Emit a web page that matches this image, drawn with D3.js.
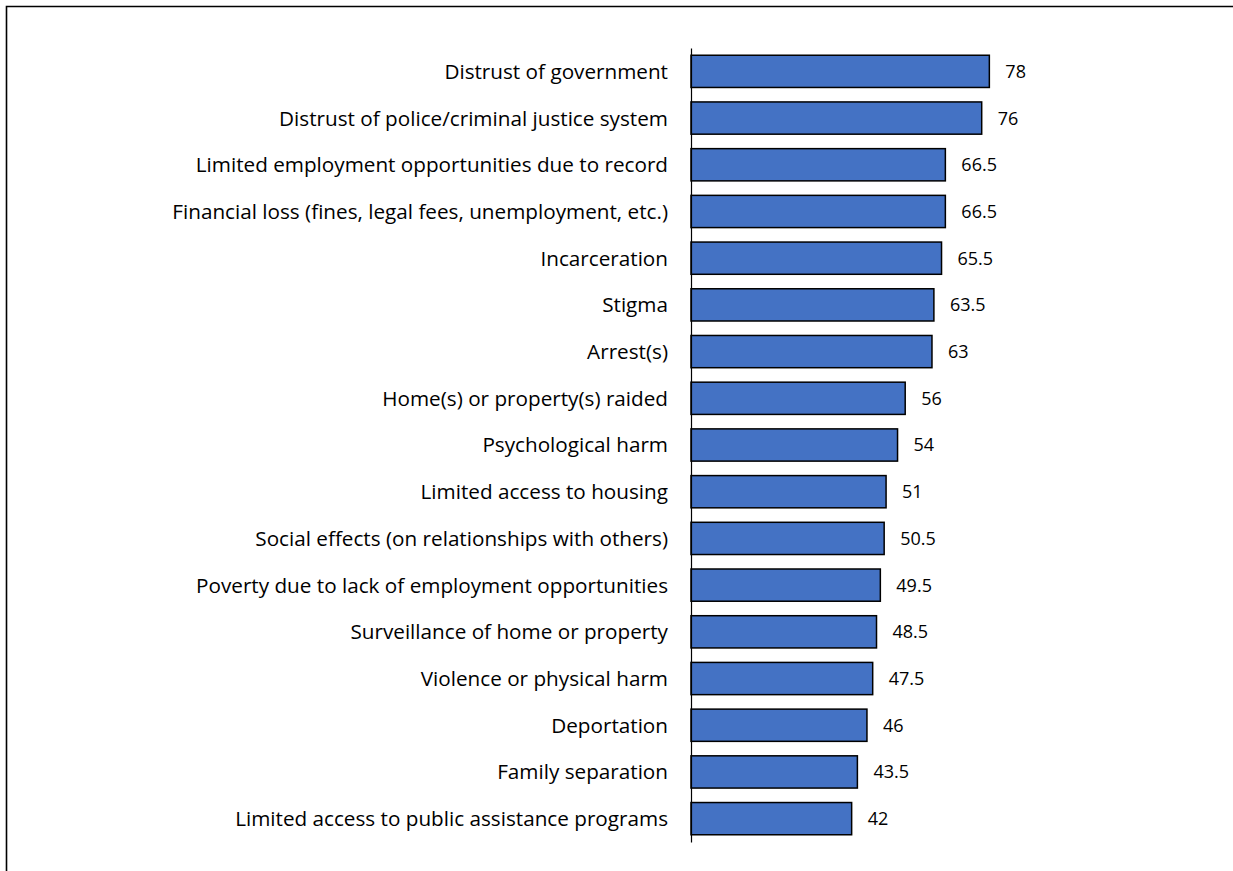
<!DOCTYPE html>
<html>
<head>
<meta charset="utf-8">
<script src="https://cdn.jsdelivr.net/npm/d3@7"></script>
<style>
  html, body { margin: 0; background: #fff; overflow: hidden; }
  svg { display: block; }
  svg text { font-family: "Open Sans", sans-serif; fill: #000; }
</style>
</head>
<body>
<div id="chart"></div>
<script>
// categories, top to bottom
var categories = [
  "Distrust of government",
  "Distrust of police/criminal justice system",
  "Limited employment opportunities due to record",
  "Financial loss (fines, legal fees, unemployment, etc.)",
  "Incarceration",
  "Stigma",
  "Arrest(s)",
  "Home(s) or property(s) raided",
  "Psychological harm",
  "Limited access to housing",
  "Social effects (on relationships with others)",
  "Poverty due to lack of employment opportunities",
  "Surveillance of home or property",
  "Violence or physical harm",
  "Deportation",
  "Family separation",
  "Limited access to public assistance programs"
];
var values = [78, 76, 66.5, 66.5, 65.5, 63.5, 63, 56, 54, 51, 50.5, 49.5, 48.5, 47.5, 46, 43.5, 42];

var width = 1233,
    height = 871;

var svg = d3.select("#chart")
  .append("svg")
  .attr("width", width)
  .attr("height", height);

// outer frame (only top and left edges are inside the picture)
svg.append("path")
  .attr("d", "M6.5,880 L6.5,6.5 L1240,6.5")
  .attr("fill", "none")
  .attr("stroke", "#000")
  .attr("stroke-width", 1.6);

var x = d3.scaleLinear()
  .domain([0, 90])
  .range([691, 691 + 90 * 3.825]);

var y = d3.scaleBand()
  .domain(categories)
  .range([48, 842])
  .paddingInner(0.31)
  .paddingOuter(0.155);

var data = categories.map(function (c, i) { return { name: c, value: values[i] }; });

// bars
svg.append("g").selectAll("rect")
  .data(data)
  .enter()
  .append("rect")
  .attr("x", x(0))
  .attr("y", d => y(d.name))
  .attr("width", d => x(d.value) - x(0))
  .attr("height", y.bandwidth())
  .attr("fill", "#4472C4")
  .attr("stroke", "#000")
  .attr("stroke-width", 1.5);

// value labels
svg.append("g").selectAll("text")
  .data(data)
  .enter()
  .append("text")
  .attr("x", d => x(d.value) + 16)
  .attr("y", d => y(d.name) + y.bandwidth() / 2)
  .attr("dy", "0.36em")
  .style("font-size", "18px")
  .text(d => d.value);

// category axis
var yAxis = d3.axisLeft(y).tickSize(0).tickPadding(23);
var ax = svg.append("g")
  .attr("transform", "translate(" + x(0) + ",0)")
  .call(yAxis);
ax.select(".domain")
  .attr("stroke", "#000")
  .attr("stroke-width", 1.2);
ax.selectAll("text")
  .attr("dy", "0.36em")
  .style("font-size", "20.7px")
  .style("font-family", "'Open Sans', sans-serif");
</script>
</body>
</html>
